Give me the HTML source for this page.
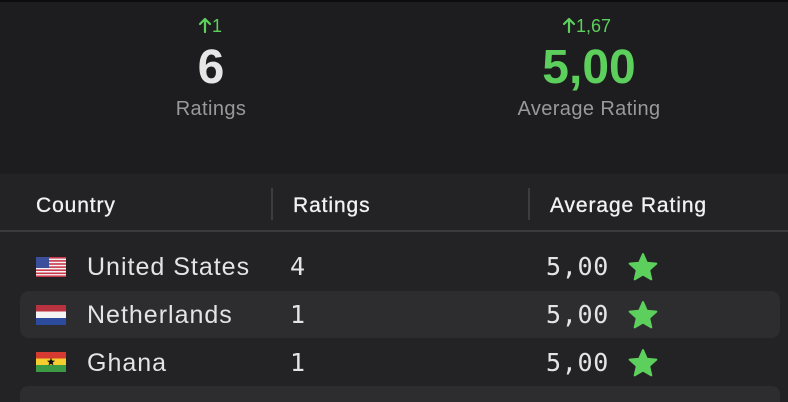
<!DOCTYPE html>
<html>
<head>
<meta charset="utf-8">
<style>
html,body{margin:0;padding:0;background:#1c1c1e;width:788px;height:402px;overflow:hidden;}
svg{display:block;}
.s{font-family:"Liberation Sans",sans-serif;}
.m{font-family:"DejaVu Sans Mono","Liberation Mono",monospace;}
</style>
</head>
<body>
<svg width="788" height="402" viewBox="0 0 788 402" xmlns="http://www.w3.org/2000/svg">
  <rect x="0" y="0" width="788" height="402" fill="#1d1d1f"/>
  <rect x="0" y="0" width="788" height="2" fill="#0c0c0d"/>
  <!-- table bg -->
  <rect x="0" y="174" width="788" height="228" fill="#232326"/>
  <!-- header divider -->
  <rect x="0" y="230" width="788" height="2" fill="#3b3b3e"/>
  <rect x="271" y="188" width="2" height="32" fill="#3d3d40"/>
  <rect x="528" y="188" width="2" height="32" fill="#3d3d40"/>
  <!-- row highlights -->
  <rect x="20" y="291" width="760" height="47" rx="9" fill="#2d2d30"/>
  <path d="M20,402 L20,395 Q20,386 29,386 L771,386 Q780,386 780,395 L780,402 Z" fill="#2d2d30"/>

  <!-- arrows -->
  <g stroke="#5ccf5c" stroke-width="2.2" fill="none" stroke-linecap="round" stroke-linejoin="round">
    <path d="M205,32 L205,19 M200,24 L205,19 L210,24"/>
    <path d="M569,32 L569,19 M564,24 L569,19 L574,24"/>
  </g>

  <!-- top stats -->
  <g class="s" fill="#5ccf5c" font-size="18">
    <text x="212" y="32">1</text>
    <text x="576" y="32">1,67</text>
  </g>
  <g class="s" text-anchor="middle">
    <text x="211" y="83" font-size="48" font-weight="bold" fill="#e6e6e6">6</text>
    <text x="211" y="115" font-size="20" fill="#999999" letter-spacing="0.4">Ratings</text>
    <text x="589" y="83" font-size="48" font-weight="bold" fill="#5ccf5c">5,00</text>
    <text x="589" y="115" font-size="20" fill="#999999" letter-spacing="0.4">Average Rating</text>
  </g>

  <!-- headers -->
  <g class="s" font-size="21" fill="#f2f2f2" stroke="#f2f2f2" stroke-width="0.3" letter-spacing="0.9">
    <text x="36" y="212">Country</text>
    <text x="293" y="212">Ratings</text>
    <text x="550" y="212">Average Rating</text>
  </g>

  <!-- flags -->
  <!-- US -->
  <g transform="translate(36,257)">
    <rect x="0" y="0" width="30" height="20" rx="2" fill="#f4f4f4"/>
    <rect x="0" y="0" width="30" height="1.6" fill="#c9384a"/>
    <rect x="0" y="3.1" width="30" height="1.6" fill="#c9384a"/>
    <rect x="0" y="6.2" width="30" height="1.6" fill="#c9384a"/>
    <rect x="0" y="9.3" width="30" height="1.6" fill="#c9384a"/>
    <rect x="0" y="12.4" width="30" height="1.6" fill="#c9384a"/>
    <rect x="0" y="15.5" width="30" height="1.6" fill="#c9384a"/>
    <rect x="0" y="18.4" width="30" height="1.6" fill="#c9384a"/>
    <rect x="0" y="0" width="13" height="11" fill="#3c4f9a"/>
  </g>
  <!-- NL -->
  <g transform="translate(36,305)">
    <rect x="0" y="0" width="30" height="7" fill="#b9323f"/>
    <rect x="0" y="6.5" width="30" height="7" fill="#f4f4f4"/>
    <rect x="0" y="13" width="30" height="7" fill="#2d4b9c"/>
  </g>
  <!-- Ghana -->
  <g transform="translate(36,352)">
    <rect x="0" y="0" width="30" height="7" fill="#d43a2f"/>
    <rect x="0" y="6.5" width="30" height="7" fill="#f5cd2e"/>
    <rect x="0" y="13" width="30" height="7" fill="#3c9a45"/>
    <path transform="translate(15,10) scale(0.28)" d="M0,-15 L3.82,-5.26 L14.27,-4.64 L6.18,2.01 L8.82,12.14 L0,6.5 L-8.82,12.14 L-6.18,2.01 L-14.27,-4.64 L-3.82,-5.26 Z" fill="#111"/>
  </g>

  <!-- country names -->
  <g class="s" font-size="25" fill="#e4e4e4" letter-spacing="1">
    <text x="87" y="275">United States</text>
    <text x="87" y="323">Netherlands</text>
    <text x="87" y="371">Ghana</text>
  </g>

  <!-- counts -->
  <g class="m" font-size="25" fill="#e4e4e4">
    <text x="290" y="275">4</text>
    <text x="290" y="323">1</text>
    <text x="290" y="371">1</text>
    <text x="546" y="275" letter-spacing="0.7">5,00</text>
    <text x="546" y="323" letter-spacing="0.7">5,00</text>
    <text x="546" y="371" letter-spacing="0.7">5,00</text>
  </g>

  <!-- stars -->
  <g fill="#5ccf5c" stroke="#5ccf5c" stroke-width="2" stroke-linejoin="round">
    <path transform="translate(643,268)" d="M0,-14 L3.82,-5.26 L13.3,-4.4 L6.18,2.01 L8.3,11.4 L0,6.5 L-8.3,11.4 L-6.18,2.01 L-13.3,-4.4 L-3.82,-5.26 Z"/>
    <path transform="translate(643,316)" d="M0,-14 L3.82,-5.26 L13.3,-4.4 L6.18,2.01 L8.3,11.4 L0,6.5 L-8.3,11.4 L-6.18,2.01 L-13.3,-4.4 L-3.82,-5.26 Z"/>
    <path transform="translate(643,364)" d="M0,-14 L3.82,-5.26 L13.3,-4.4 L6.18,2.01 L8.3,11.4 L0,6.5 L-8.3,11.4 L-6.18,2.01 L-13.3,-4.4 L-3.82,-5.26 Z"/>
  </g>
</svg>
</body>
</html>
